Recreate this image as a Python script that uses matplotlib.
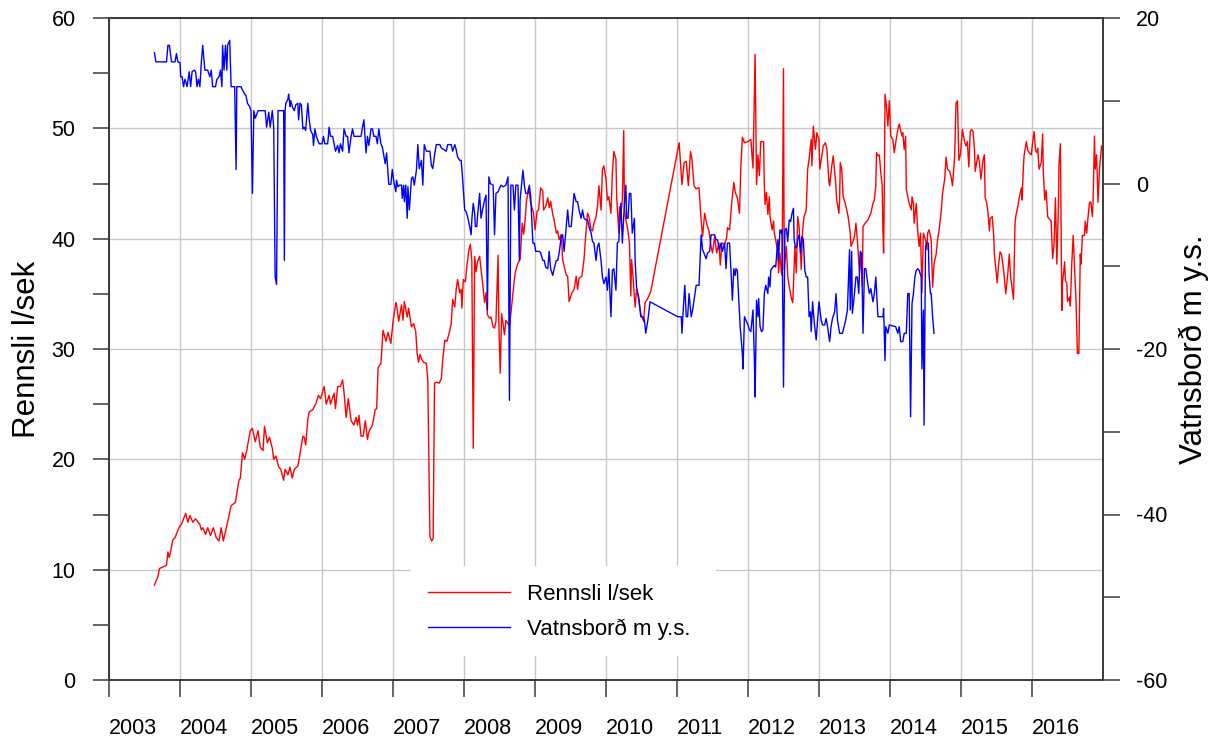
import matplotlib
matplotlib.use("Agg")
import matplotlib.pyplot as plt
from matplotlib.patches import Rectangle
from matplotlib.lines import Line2D
from matplotlib.ticker import MultipleLocator

plt.rcParams['font.family'] = ['Liberation Sans', 'DejaVu Sans']
plt.rcParams['axes.unicode_minus'] = False

# ---------------- data ----------------
rennsli_t = [
    2003.64, 2003.69, 2003.71, 2003.81, 2003.83, 2003.85, 2003.90, 2003.93, 2003.99, 2004.02,
    2004.08, 2004.11, 2004.14, 2004.18, 2004.22, 2004.28, 2004.30, 2004.32, 2004.36, 2004.39,
    2004.43, 2004.47, 2004.51, 2004.55, 2004.58, 2004.61, 2004.67, 2004.72, 2004.78, 2004.83,
    2004.85, 2004.88, 2004.91, 2004.94, 2004.99, 2005.02, 2005.06, 2005.10, 2005.13, 2005.17,
    2005.19, 2005.23, 2005.26, 2005.30, 2005.32, 2005.35, 2005.39, 2005.42, 2005.46, 2005.48,
    2005.52, 2005.55, 2005.58, 2005.61, 2005.66, 2005.68, 2005.73, 2005.75, 2005.77, 2005.80,
    2005.82, 2005.87, 2005.91, 2005.95, 2005.98, 2006.03, 2006.06, 2006.10, 2006.12, 2006.17,
    2006.19, 2006.22, 2006.26, 2006.29, 2006.31, 2006.34, 2006.37, 2006.41, 2006.45, 2006.48,
    2006.50, 2006.52, 2006.55, 2006.58, 2006.61, 2006.64, 2006.66, 2006.71, 2006.75, 2006.77,
    2006.79, 2006.83, 2006.86, 2006.90, 2006.93, 2006.97, 2007.00, 2007.04,
    2007.05, 2007.08, 2007.12, 2007.14, 2007.16, 2007.20, 2007.22, 2007.26, 2007.29, 2007.32,
    2007.34, 2007.36, 2007.38, 2007.41, 2007.43, 2007.47, 2007.49, 2007.52, 2007.545, 2007.565,
    2007.585, 2007.61, 2007.65, 2007.68, 2007.70, 2007.73, 2007.76, 2007.79, 2007.82, 2007.84,
    2007.87, 2007.89, 2007.91, 2007.94, 2007.96, 2007.97, 2007.99, 2008.02, 2008.04, 2008.07,
    2008.09, 2008.11, 2008.13, 2008.15, 2008.17, 2008.19, 2008.22, 2008.24, 2008.26, 2008.29,
    2008.31, 2008.33, 2008.36, 2008.38, 2008.41, 2008.43, 2008.45, 2008.48, 2008.49, 2008.51,
    2008.53, 2008.55, 2008.57, 2008.59, 2008.62, 2008.64, 2008.66, 2008.69, 2008.72, 2008.76,
    2008.79, 2008.82, 2008.84, 2008.86, 2008.88, 2008.91, 2008.94, 2008.98, 2009.00, 2009.03,
    2009.05, 2009.08, 2009.11, 2009.12, 2009.15, 2009.18, 2009.20, 2009.22, 2009.25, 2009.27,
    2009.30, 2009.32, 2009.34, 2009.37, 2009.39, 2009.41, 2009.44, 2009.46, 2009.48, 2009.52,
    2009.55, 2009.58, 2009.60, 2009.62, 2009.66, 2009.69, 2009.72, 2009.74, 2009.76, 2009.79,
    2009.81, 2009.83, 2009.86, 2009.88, 2009.90, 2009.93, 2009.95, 2009.97, 2010.00, 2010.02,
    2010.04, 2010.07, 2010.09, 2010.11, 2010.14, 2010.15, 2010.18, 2010.19, 2010.21, 2010.23,
    2010.25, 2010.26, 2010.28, 2010.30, 2010.33, 2010.35, 2010.36, 2010.38, 2010.41, 2010.43,
    2010.46,
    2010.49, 2010.53, 2010.55, 2010.59, 2010.63, 2011.03, 2011.07, 2011.10, 2011.13, 2011.16,
    2011.19, 2011.21, 2011.24, 2011.27, 2011.29, 2011.31, 2011.34, 2011.36, 2011.39, 2011.42,
    2011.45, 2011.48, 2011.50, 2011.53, 2011.56, 2011.59, 2011.61, 2011.63, 2011.67, 2011.70,
    2011.71, 2011.74, 2011.77, 2011.80, 2011.82, 2011.85, 2011.88, 2011.90, 2011.92, 2011.95,
    2012.00, 2012.04, 2012.07, 2012.10, 2012.12, 2012.14, 2012.16, 2012.18, 2012.22, 2012.23,
    2012.24, 2012.26, 2012.28, 2012.30, 2012.31, 2012.34, 2012.36, 2012.37, 2012.39, 2012.42,
    2012.43, 2012.45, 2012.47, 2012.48, 2012.50, 2012.51, 2012.54, 2012.56, 2012.58, 2012.61,
    2012.63, 2012.64, 2012.66, 2012.68, 2012.70, 2012.72, 2012.75, 2012.77, 2012.79, 2012.82,
    2012.84, 2012.86, 2012.89, 2012.90, 2012.92, 2012.95, 2012.97, 2013.00, 2013.01, 2013.04,
    2013.06, 2013.09, 2013.11, 2013.14, 2013.15, 2013.18, 2013.20, 2013.23, 2013.25, 2013.28,
    2013.29, 2013.30, 2013.32, 2013.34, 2013.37, 2013.39, 2013.41, 2013.44, 2013.45, 2013.47,
    2013.50, 2013.52, 2013.54, 2013.57, 2013.59, 2013.61, 2013.62, 2013.65, 2013.69, 2013.71,
    2013.73, 2013.76, 2013.78, 2013.80, 2013.81, 2013.83, 2013.85, 2013.87, 2013.89, 2013.90,
    2013.91, 2013.92, 2013.93, 2013.95, 2013.97, 2013.99, 2014.01, 2014.04, 2014.06, 2014.08,
    2014.11, 2014.13, 2014.15, 2014.17, 2014.18, 2014.20, 2014.22, 2014.23, 2014.25, 2014.27,
    2014.30, 2014.31, 2014.33, 2014.34, 2014.37, 2014.39, 2014.41, 2014.43, 2014.45, 2014.47,
    2014.50, 2014.52, 2014.53, 2014.55, 2014.58,
    2014.60, 2014.62, 2014.65, 2014.67, 2014.69, 2014.72, 2014.74, 2014.77, 2014.79, 2014.81,
    2014.84, 2014.86, 2014.88, 2014.91, 2014.93, 2014.95, 2014.97, 2014.99, 2015.00, 2015.02,
    2015.05, 2015.07, 2015.09, 2015.11, 2015.13, 2015.15, 2015.17, 2015.19, 2015.20, 2015.22,
    2015.24, 2015.26, 2015.28, 2015.31, 2015.33, 2015.34, 2015.36, 2015.38, 2015.40, 2015.41,
    2015.44, 2015.46, 2015.47, 2015.49, 2015.51, 2015.53, 2015.55, 2015.57, 2015.59, 2015.61,
    2015.63, 2015.66, 2015.68, 2015.70, 2015.74, 2015.76, 2015.77, 2015.80, 2015.82, 2015.85,
    2015.86, 2015.88, 2015.89, 2015.92, 2015.94, 2015.96, 2015.99, 2016.01, 2016.03, 2016.05,
    2016.07, 2016.08, 2016.10, 2016.13, 2016.15, 2016.16, 2016.18, 2016.20, 2016.22, 2016.24,
    2016.27, 2016.29, 2016.31, 2016.33, 2016.35, 2016.37, 2016.38, 2016.40, 2016.42, 2016.43,
    2016.46, 2016.47, 2016.49, 2016.50, 2016.53, 2016.54, 2016.56, 2016.58, 2016.60, 2016.62,
    2016.64, 2016.66, 2016.68, 2016.69, 2016.71, 2016.74, 2016.75, 2016.77, 2016.79, 2016.81,
    2016.83, 2016.85, 2016.86, 2016.88, 2016.89, 2016.91, 2016.93, 2016.95, 2016.98,
]
rennsli_v = [
    8.6, 9.4, 10.1, 10.4, 11.6, 11.1, 12.7, 12.9, 13.9, 14.1,
    15.1, 14.3, 14.9, 14.3, 14.6, 14.1, 13.6, 13.8, 13.2, 13.8,
    13.1, 13.8, 12.9, 12.6, 13.8, 12.6, 14.3, 15.8, 16.1, 18.1,
    18.3, 20.6, 20.0, 20.8, 22.6, 22.8, 21.6, 22.6, 21.1, 20.8,
    23.0, 21.5, 22.0, 21.0, 20.0, 20.3, 19.3, 19.1, 18.1, 19.1,
    18.6, 19.3, 18.3, 19.1, 19.4, 20.1, 22.1, 22.0, 21.3, 23.6,
    24.3, 24.5, 25.0, 25.8, 25.5, 26.6, 25.0, 25.8, 25.0, 26.0,
    24.6, 26.6, 26.6, 27.2, 26.1, 23.8, 25.5, 23.5, 23.1, 23.8,
    23.1, 24.0, 22.1, 22.1, 23.5, 21.8, 22.5, 23.1, 24.5, 24.6,
    28.3, 28.7, 31.7, 30.7, 31.5, 30.5, 32.5, 34.2,
    34.0, 32.5, 34.0, 32.6, 34.3, 32.9, 33.7, 32.0, 32.3, 31.6,
    29.6, 28.8, 29.5, 29.0, 28.8, 28.7, 27.2, 13.0, 12.6, 12.8,
    26.9, 27.0, 26.9, 27.3, 29.0, 30.8, 30.7, 31.4, 32.3, 34.5,
    33.8, 35.4, 36.3, 35.1, 35.4, 33.7, 36.3, 36.1, 37.5, 39.0,
    39.5, 38.1, 21.0, 38.4, 37.0, 37.9, 38.4, 37.2, 36.1, 34.2,
    35.1, 33.1, 32.8, 32.9, 32.0, 31.9, 32.5, 38.5, 32.6, 27.8,
    33.2, 32.3, 31.3, 32.6, 32.3, 32.0, 33.2, 35.1, 36.9, 37.8,
    38.1, 41.4, 40.4, 41.6, 43.4, 44.6, 43.2, 42.3, 40.8, 42.5,
    42.6, 44.6, 44.3, 42.6, 42.9, 43.7, 42.8, 43.4, 42.2, 41.7,
    40.5, 40.7, 39.9, 40.4, 38.1, 37.5, 36.7, 36.6, 34.3, 35.1,
    35.4, 36.6, 35.4, 36.4, 36.6, 38.1, 40.8, 42.3, 42.0, 40.8,
    40.7, 41.4, 42.0, 42.9, 44.8, 42.6, 46.3, 46.6, 45.4, 43.5,
    43.8, 42.3, 46.0, 47.9, 47.2, 43.8, 40.5, 42.9, 42.3, 43.5,
    49.8, 42.6, 41.7, 41.1, 39.6, 34.8, 38.1, 36.6, 33.8, 35.4,
    34.5,
    33.2, 32.5, 34.2, 34.6, 35.2, 48.7, 44.9, 46.9, 47.0, 44.8,
    47.9, 47.2, 44.8, 44.5, 44.6, 44.6, 41.7, 40.2, 42.3, 41.3,
    40.7, 39.3, 38.7, 40.2, 38.7, 39.6, 37.6, 39.6, 39.5, 40.1,
    41.0, 40.8, 43.2, 45.1, 44.2, 43.7, 42.3, 46.6, 49.2, 48.7,
    48.8, 49.0, 46.4, 56.7, 44.9, 47.6, 45.7, 48.8, 48.8, 44.8,
    43.1, 44.2, 42.2, 43.8, 42.0, 40.8, 41.6, 40.5, 39.9, 38.7,
    36.9, 38.7, 36.9, 36.7, 55.4, 37.2, 39.3, 36.6, 35.7, 34.6,
    34.2, 35.8, 39.3, 36.9, 42.0, 41.1, 37.2, 40.8, 42.0, 42.6,
    46.3, 47.2, 49.0, 46.6, 50.2, 48.1, 49.6, 49.0, 46.3, 47.5,
    48.4, 48.7, 48.2, 45.1, 44.8, 46.6, 47.5, 45.4, 43.5, 42.3,
    43.5, 46.9, 46.3, 43.8, 43.2, 42.6, 42.0, 40.5, 39.3, 39.6,
    40.2, 41.4, 39.9, 36.9, 38.7, 35.7, 41.1, 41.4, 41.7, 42.0,
    42.3, 43.2, 43.5, 44.8, 47.8, 47.5, 47.6, 46.0, 44.8, 40.8,
    38.7, 44.5, 53.1, 52.0, 50.2, 52.5, 49.3, 49.0, 47.8, 48.7,
    49.9, 50.4, 49.8, 49.3, 49.6, 48.1, 49.3, 44.5, 43.8, 43.2,
    42.6, 43.8, 43.2, 41.4, 43.2, 40.7, 39.3, 40.5, 35.1, 40.5,
    39.9, 39.0, 40.5, 40.8, 39.9,
    35.6, 37.7, 38.6, 39.9, 40.7, 42.4, 44.1, 45.4, 47.4, 46.3,
    46.1, 45.6, 44.8, 47.4, 52.3, 52.5, 47.1, 47.6, 48.2, 49.9,
    48.8, 48.4, 48.8, 46.5, 49.7, 49.9, 49.7, 48.0, 46.1, 46.9,
    47.6, 46.9, 45.4, 47.1, 47.6, 43.7, 43.3, 42.4, 40.7, 41.8,
    42.0, 40.3, 38.6, 37.3, 36.0, 37.7, 38.8, 38.6, 37.7, 36.5,
    35.0, 36.9, 38.6, 36.5, 34.5, 41.2, 42.0, 42.9, 43.7, 44.6,
    43.5, 46.7, 47.6, 48.8, 48.0, 47.8, 47.6, 48.8, 49.7, 48.0,
    47.8, 48.2, 46.3, 46.9, 49.5, 45.9, 43.5, 44.4, 42.0, 41.8,
    41.6, 38.2, 39.4, 43.7, 37.7, 42.4, 46.7, 48.6, 33.5, 36.0,
    37.9, 36.2, 36.0, 34.3, 34.7, 33.9, 37.7, 40.3, 37.3, 34.3,
    29.6, 29.6, 38.6, 37.7, 40.3, 40.3, 41.6, 40.5, 42.0, 43.3,
    43.3, 42.0, 43.3, 49.3, 46.3, 47.6, 43.3, 46.3, 48.4,
]

vatn_t = [
    2003.64, 2003.66, 2003.81, 2003.83, 2003.85, 2003.88, 2003.93, 2003.95, 2003.97, 2004.00,
    2004.01, 2004.03, 2004.05, 2004.07, 2004.10, 2004.13, 2004.15, 2004.17, 2004.20, 2004.22,
    2004.24, 2004.26, 2004.28, 2004.30, 2004.32, 2004.35, 2004.39, 2004.42, 2004.44, 2004.46,
    2004.50, 2004.52, 2004.55, 2004.57, 2004.59, 2004.60, 2004.62, 2004.64, 2004.66, 2004.67,
    2004.70, 2004.72, 2004.77, 2004.79, 2004.80, 2004.86, 2004.88, 2004.91, 2004.93, 2004.95,
    2004.98, 2005.00, 2005.02, 2005.04, 2005.06, 2005.10, 2005.20, 2005.22, 2005.25, 2005.27,
    2005.30, 2005.32, 2005.34, 2005.36, 2005.38, 2005.46, 2005.47, 2005.48, 2005.49, 2005.52,
    2005.53, 2005.55, 2005.56, 2005.59, 2005.61, 2005.63, 2005.66, 2005.67, 2005.69, 2005.71,
    2005.73, 2005.75, 2005.77, 2005.80, 2005.82, 2005.84, 2005.87, 2005.88, 2005.90, 2005.92,
    2005.96, 2006.00, 2006.02, 2006.04, 2006.08, 2006.10, 2006.12, 2006.15, 2006.17, 2006.19,
    2006.22, 2006.24, 2006.26, 2006.29, 2006.31, 2006.34, 2006.36, 2006.38, 2006.41, 2006.43,
    2006.45, 2006.55, 2006.57, 2006.59, 2006.62, 2006.64, 2006.66, 2006.69, 2006.71, 2006.73,
    2006.76, 2006.78, 2006.80, 2006.83, 2006.85, 2006.89, 2006.91, 2006.94, 2006.97, 2006.99,
    2007.01, 2007.04,
    2007.05, 2007.07, 2007.09, 2007.12, 2007.13, 2007.15, 2007.16, 2007.18, 2007.20, 2007.21,
    2007.23, 2007.25, 2007.26, 2007.28, 2007.30, 2007.33, 2007.35, 2007.37, 2007.40, 2007.42,
    2007.44, 2007.47, 2007.52, 2007.54, 2007.56, 2007.59, 2007.61, 2007.66, 2007.68, 2007.75,
    2007.77, 2007.82, 2007.84, 2007.87, 2007.89, 2007.91, 2007.94, 2007.96, 2007.98, 2008.01,
    2008.03, 2008.05, 2008.08, 2008.10, 2008.11, 2008.13, 2008.15, 2008.16, 2008.18, 2008.19,
    2008.22, 2008.24, 2008.26, 2008.29, 2008.31, 2008.33, 2008.35, 2008.37, 2008.41, 2008.43,
    2008.45, 2008.48, 2008.50, 2008.52, 2008.55, 2008.59, 2008.62, 2008.64, 2008.66, 2008.69,
    2008.71, 2008.73, 2008.76, 2008.78, 2008.79, 2008.81, 2008.83, 2008.85, 2008.87, 2008.90,
    2008.92, 2008.94, 2008.97, 2008.99, 2009.01, 2009.06, 2009.08, 2009.11, 2009.13, 2009.15,
    2009.18, 2009.20, 2009.22, 2009.25, 2009.27, 2009.30, 2009.32, 2009.34, 2009.37, 2009.39,
    2009.41, 2009.44, 2009.46, 2009.48, 2009.51, 2009.53, 2009.55, 2009.58, 2009.60, 2009.62,
    2009.65, 2009.67, 2009.69, 2009.72, 2009.74, 2009.76, 2009.79, 2009.81, 2009.83, 2009.86,
    2009.88, 2009.90, 2009.93, 2009.95, 2009.97, 2010.00, 2010.02, 2010.04, 2010.07, 2010.09,
    2010.11, 2010.14, 2010.16, 2010.18, 2010.21, 2010.23, 2010.26, 2010.28, 2010.29, 2010.31,
    2010.33, 2010.35, 2010.37, 2010.40, 2010.41, 2010.43, 2010.46,
    2010.49, 2010.52, 2010.54, 2010.56, 2010.59, 2010.62, 2011.01, 2011.06, 2011.07, 2011.09,
    2011.11, 2011.13, 2011.15, 2011.17, 2011.20, 2011.22, 2011.24, 2011.27, 2011.31, 2011.34,
    2011.36, 2011.38, 2011.41, 2011.43, 2011.46, 2011.48, 2011.53, 2011.55, 2011.57, 2011.60,
    2011.62, 2011.64, 2011.67, 2011.69, 2011.71, 2011.74, 2011.76, 2011.78, 2011.80, 2011.82,
    2011.83, 2011.85, 2011.87, 2011.89, 2011.92, 2011.93, 2011.95, 2011.97, 2012.00, 2012.02,
    2012.04, 2012.07, 2012.09, 2012.10, 2012.12, 2012.14, 2012.15, 2012.17, 2012.19, 2012.21,
    2012.23, 2012.25, 2012.28, 2012.29, 2012.31, 2012.32, 2012.35, 2012.37, 2012.39, 2012.42,
    2012.43, 2012.45, 2012.47, 2012.48, 2012.50, 2012.52, 2012.54, 2012.56, 2012.58, 2012.60,
    2012.62, 2012.64, 2012.65, 2012.67, 2012.69, 2012.70, 2012.72, 2012.74, 2012.76, 2012.78,
    2012.80, 2012.82, 2012.84, 2012.86, 2012.88, 2012.89, 2012.91, 2012.93, 2012.96, 2012.98,
    2013.00, 2013.03, 2013.05, 2013.08, 2013.10, 2013.12, 2013.15, 2013.17, 2013.19, 2013.22,
    2013.24, 2013.26, 2013.29, 2013.33, 2013.36, 2013.38, 2013.40, 2013.43, 2013.44, 2013.46,
    2013.47, 2013.50, 2013.52, 2013.54, 2013.56, 2013.58, 2013.60, 2013.62, 2013.64, 2013.66,
    2013.69, 2013.71, 2013.73, 2013.76, 2013.78, 2013.80, 2013.83, 2013.90, 2013.91, 2013.93,
    2013.94, 2013.97, 2013.99, 2014.08, 2014.11, 2014.13, 2014.15, 2014.18, 2014.20, 2014.23,
    2014.25, 2014.27, 2014.29, 2014.31, 2014.33, 2014.35, 2014.37, 2014.39, 2014.41, 2014.44,
    2014.45, 2014.47, 2014.48, 2014.50, 2014.52, 2014.54, 2014.55, 2014.57, 2014.58, 2014.60,
    2014.62,
]
vatn_v = [
    15.8, 14.7, 14.7, 16.7, 16.7, 14.7, 14.7, 15.7, 14.7, 14.6,
    12.9, 12.9, 11.7, 12.6, 11.7, 13.5, 11.7, 13.5, 13.7, 13.5,
    11.7, 12.6, 11.7, 14.6, 16.7, 13.7, 13.7, 12.9, 13.7, 11.7,
    11.7, 12.6, 12.9, 13.7, 11.7, 16.7, 13.7, 16.7, 13.7, 16.7,
    17.3, 11.7, 11.7, 1.7, 11.7, 11.7, 11.3, 10.8, 10.6, 9.7,
    9.3, 8.8, -1.2, 8.8, 7.9, 8.8, 8.8, 6.8, 8.6, 6.8,
    8.8, 6.8, -11.3, -12.2, 8.8, 8.8, -9.3, 8.8, 9.7, 10.2,
    10.8, 9.3, 10.0, 9.1, 8.8, 9.5, 9.7, 7.7, 9.7, 9.5,
    6.6, 6.8, 6.4, 9.7, 7.7, 6.4, 5.9, 4.6, 6.6, 5.7,
    4.8, 4.8, 5.7, 4.8, 4.8, 6.8, 5.7, 5.7, 4.8, 3.9,
    4.6, 3.7, 4.8, 3.9, 6.6, 5.7, 5.7, 3.7, 5.7, 6.6,
    5.7, 5.7, 6.8, 7.7, 3.7, 5.7, 4.6, 6.6, 6.6, 5.7,
    5.7, 4.8, 6.6, 4.8, 4.4, 2.4, 3.7, -0.1, -0.1, 1.7,
    0.3, -1.0,
    0.4, -0.4, -0.2, -0.2, -1.8, -0.2, -2.2, -0.2, -4.2, -0.4,
    -3.2, -0.6, 0.6, 0.8, -0.2, 1.6, 4.7, 1.8, 2.8, -0.2,
    4.7, 3.9, 3.9, 2.2, 1.8, 3.7, 4.7, 4.7, 4.3, 3.9,
    4.7, 4.7, 3.9, 4.7, 4.1, 3.2, 2.8, 2.8, 0.6, -3.2,
    -3.4, -4.0, -5.2, -6.2, -4.4, -2.4, -3.6, -5.2, -5.2, -4.0,
    -1.2, -4.2, -3.2, -2.0, -1.4, -15.3, 0.8, 0.0, -0.2, -6.2,
    -1.2, -1.0, -0.6, -0.2, -0.4, -0.2, 0.8, -26.2, -0.2, -0.2,
    -3.2, -0.2, -0.2, -9.3, -2.0, -0.2, 1.6, -0.2, -1.2, -1.2,
    -0.2, -1.6, -7.2, -7.2, -8.2, -8.2, -8.4, -9.3, -9.3, -10.1,
    -10.3, -8.2, -10.3, -11.1, -10.3, -9.3, -9.3, -8.4, -6.4, -6.2,
    -8.2, -5.2, -3.2, -5.2, -5.2, -3.2, -1.2, -2.2, -2.2, -3.2,
    -4.2, -3.2, -4.2, -4.4, -4.4, -5.2, -6.0, -7.0, -7.2, -9.3,
    -7.6, -7.2, -9.3, -11.3, -12.1, -11.3, -12.9, -10.3, -16.1, -10.5,
    -10.3, -12.9, -7.2, -7.0, -2.4, -7.2, -2.4, -0.2, -4.2, -4.2,
    -1.2, -1.2, -6.0, -4.2, -9.3, -12.5, -13.7,
    -16.1, -16.1, -16.5, -18.1, -16.5, -14.3, -16.1, -16.1, -18.1, -14.9,
    -12.3, -16.1, -16.1, -13.3, -16.1, -15.3, -14.1, -12.3, -12.3, -6.2,
    -8.0, -8.4, -9.1, -8.4, -8.2, -6.2, -6.2, -6.8, -6.8, -8.0,
    -7.2, -8.2, -7.2, -10.3, -7.2, -7.2, -10.5, -14.1, -10.3, -11.1,
    -10.3, -10.5, -14.1, -17.3, -20.5, -22.4, -16.1, -16.5, -17.1, -17.7,
    -17.9, -15.3, -21.4, -25.8, -14.1, -16.1, -13.9, -17.3, -17.9, -17.7,
    -13.3, -12.3, -13.3, -11.3, -12.5, -10.5, -10.1, -9.9, -10.1, -6.8,
    -9.3, -5.6, -6.0, -5.6, -24.6, -5.6, -5.4, -7.0, -4.4, -4.6,
    -3.6, -3.0, -6.8, -7.8, -7.6, -6.8, -6.2, -8.4, -6.4, -6.8,
    -10.5, -11.3, -11.3, -16.1, -15.5, -17.9, -14.3, -16.5, -18.9, -16.5,
    -14.3, -16.5, -17.1, -17.1, -16.3, -17.3, -19.1, -17.3, -16.3, -15.5,
    -13.3, -16.5, -18.1, -18.1, -17.1, -16.3, -15.3, -8.0, -15.3, -8.2,
    -15.7, -13.3, -11.3, -11.3, -13.3, -8.2, -8.4, -18.1, -10.3, -10.3,
    -12.3, -13.3, -12.7, -14.3, -13.3, -11.3, -16.1, -16.1, -15.1, -21.4,
    -17.3, -18.1, -17.1, -17.3, -18.1, -17.3, -19.1, -19.1, -18.1, -18.1,
    -13.3, -13.3, -28.2, -14.5, -13.3, -11.3, -10.5, -10.3, -10.5, -11.3,
    -22.4, -15.3, -29.2, -7.6, -7.2, -7.2, -10.9, -13.3, -13.3, -16.1,
    -18.1,
]

year_ticks = list(range(2003, 2017))
left_ticks = [0, 10, 20, 30, 40, 50, 60]
right_ticks = [-60, -40, -20, 0, 20]

label_left = "Rennsli l/sek"
label_right = "Vatnsborð m y.s."

# ---------------- figure ----------------
W, H = 1217, 737
fig = plt.figure(figsize=(W / 100, H / 100), dpi=100)
ax = fig.add_axes([109 / W, (H - 680) / H, (1103 - 109) / W, (680 - 18) / H])
ax2 = ax.twinx()

spine_col = '#3a3a3a'
grid_col = '#c8c8c8'

ax.plot(rennsli_t, rennsli_v, color='#ff0000', lw=1.0, zorder=3)
ax2.plot(vatn_t, vatn_v, color='#0000ff', lw=1.0, zorder=3)

ax.set_xlim(2003, 2017)
ax.set_ylim(0, 60)
ax2.set_ylim(-60, 20)

ax.set_xticks(year_ticks)
ax.set_xticklabels([str(y) for y in year_ticks], ha='left')
ax.set_yticks(left_ticks)
ax.yaxis.set_minor_locator(MultipleLocator(5))
ax2.set_yticks(right_ticks)
ax2.yaxis.set_minor_locator(MultipleLocator(10))

ax.grid(True, which='major', axis='both', color=grid_col, lw=1.0, zorder=0)
ax.set_axisbelow(True)

for a in (ax, ax2):
    for s in a.spines.values():
        s.set_color(spine_col)
        s.set_linewidth(1.2)

ax.tick_params(axis='x', which='major', direction='out', length=12, width=1.1,
               color=spine_col, labelsize=15.5, pad=15)
ax.tick_params(axis='y', which='both', direction='out', length=11.5, width=1.1,
               color=spine_col, labelsize=15.5, pad=12.5)
ax2.tick_params(axis='y', which='both', direction='out', length=12.5, width=1.1,
                color=spine_col, labelsize=15.5, pad=11.5)

ax.set_ylabel(label_left, fontsize=22.5)
ax.yaxis.set_label_coords(-0.067, 0.5)
ax2.set_ylabel(label_right, fontsize=22.5, rotation=90)
ax2.yaxis.set_label_coords(1.0765, 0.5)

# legend with white box covering the grid
box = Rectangle(((411 - 109) / 994, (680 - 656) / 662), (716 - 411) / 994, (656 - 566) / 662,
                transform=ax.transAxes, facecolor='white', edgecolor='none', zorder=1.5)
ax.add_patch(box)
handles = [Line2D([], [], color='#ff0000', lw=1.0), Line2D([], [], color='#0000ff', lw=1.0)]
leg = ax2.legend(handles, [label_left, label_right], loc='upper left',
                 bbox_to_anchor=((428 - 109) / 994, (680 - 584) / 662),
                 frameon=False, fontsize=16, handlelength=3.7, handletextpad=0.75,
                 labelspacing=0.62, borderpad=0, borderaxespad=0)

fig.savefig('out.png', dpi=100)
